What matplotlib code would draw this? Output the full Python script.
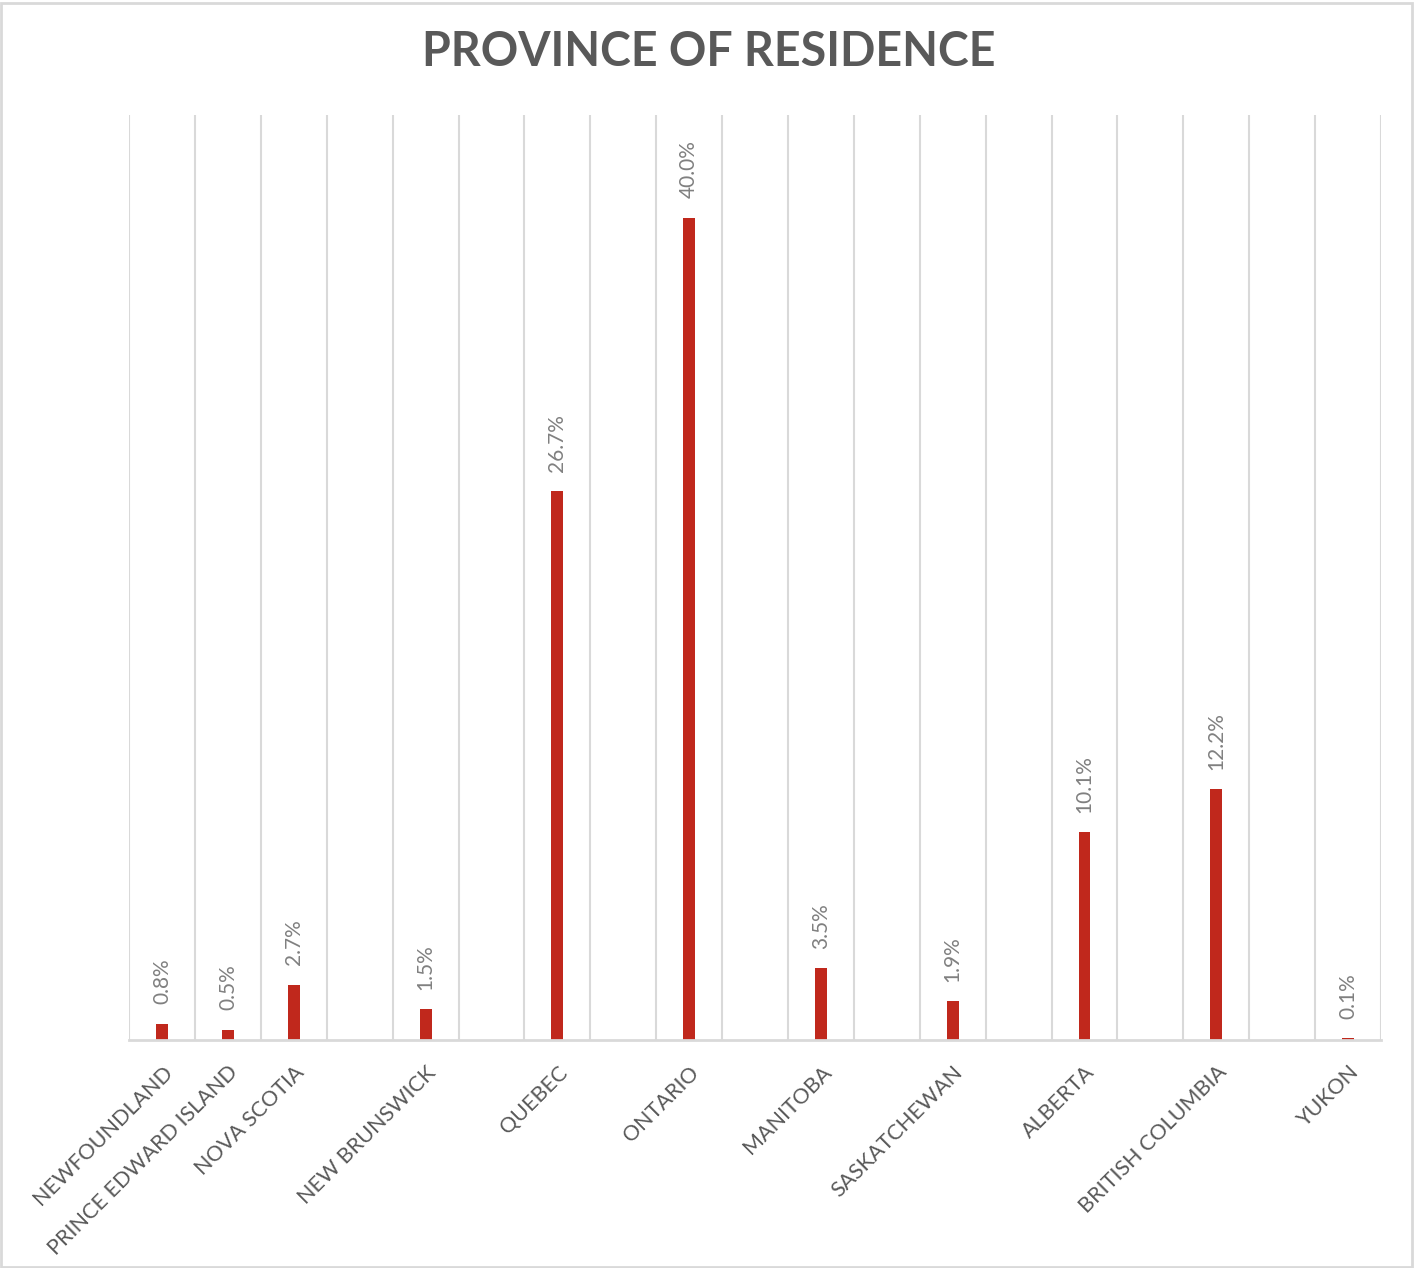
import matplotlib
matplotlib.use('Agg')
import matplotlib.pyplot as plt
from matplotlib.patches import Rectangle
import numpy as np

# Province shares (%), blank rows kept as empty categories
provinces = ['NEWFOUNDLAND', 'PRINCE EDWARD ISLAND', 'NOVA SCOTIA', '',
             'NEW BRUNSWICK', '', 'QUEBEC', '', 'ONTARIO', '', 'MANITOBA', '',
             'SASKATCHEWAN', '', 'ALBERTA', '', 'BRITISH COLUMBIA', '', 'YUKON']
shares = [0.8, 0.5, 2.7, None, 1.5, None, 26.7, None, 40.0, None, 3.5, None,
          1.9, None, 10.1, None, 12.2, None, 0.1]

bar_color = '#C0281C'
grid_color = '#D9D9D9'
label_color = '#595959'
value_color = '#808080'

plt.rcParams['font.family'] = ['Lato', 'DejaVu Sans']

fig = plt.figure(figsize=(14.15, 12.68), dpi=100)
ax = fig.add_axes([0.0912, 0.1798, 0.8848, 0.7295])

x = np.arange(len(provinces))
vals = np.array([np.nan if v is None else v for v in shares])
bars = ax.bar(x, np.nan_to_num(vals), width=0.18, color=bar_color, zorder=3)

for xi, v in zip(x, vals):
    if np.isnan(v):
        continue
    ax.annotate('{:.1f}%'.format(v), (xi, v), xytext=(0, 14), textcoords='offset points',
                rotation=90, ha='center', va='bottom', fontsize=15, color=value_color)

ax.set_xlim(-0.5, len(provinces) - 0.5)
ax.set_ylim(0, 45)

# vertical gridlines at category boundaries
for b in np.arange(-0.5, len(provinces), 1.0):
    ax.axvline(b, color=grid_color, lw=1.5, zorder=1)

ax.set_xticks(x)
ax.set_xticklabels(provinces, rotation=45, ha='right', rotation_mode='anchor',
                   fontsize=15.5, color=label_color)
ax.tick_params(axis='x', length=0, pad=16)
ax.set_yticks([])
for side in ['left', 'right', 'top']:
    ax.spines[side].set_visible(False)
ax.spines['bottom'].set_color(grid_color)
ax.spines['bottom'].set_linewidth(2)
ax.spines['bottom'].set_zorder(4)

fig.text(0.501, 0.959, 'PROVINCE OF RESIDENCE', ha='center', va='center',
         fontsize=33.5, fontweight='bold', color=label_color)

# light frame round the chart
fig.patches.append(Rectangle((0.001, 0.001), 0.997, 0.997, transform=fig.transFigure,
                             fill=False, edgecolor=grid_color, lw=2))

fig.savefig('out.png', dpi=100)
